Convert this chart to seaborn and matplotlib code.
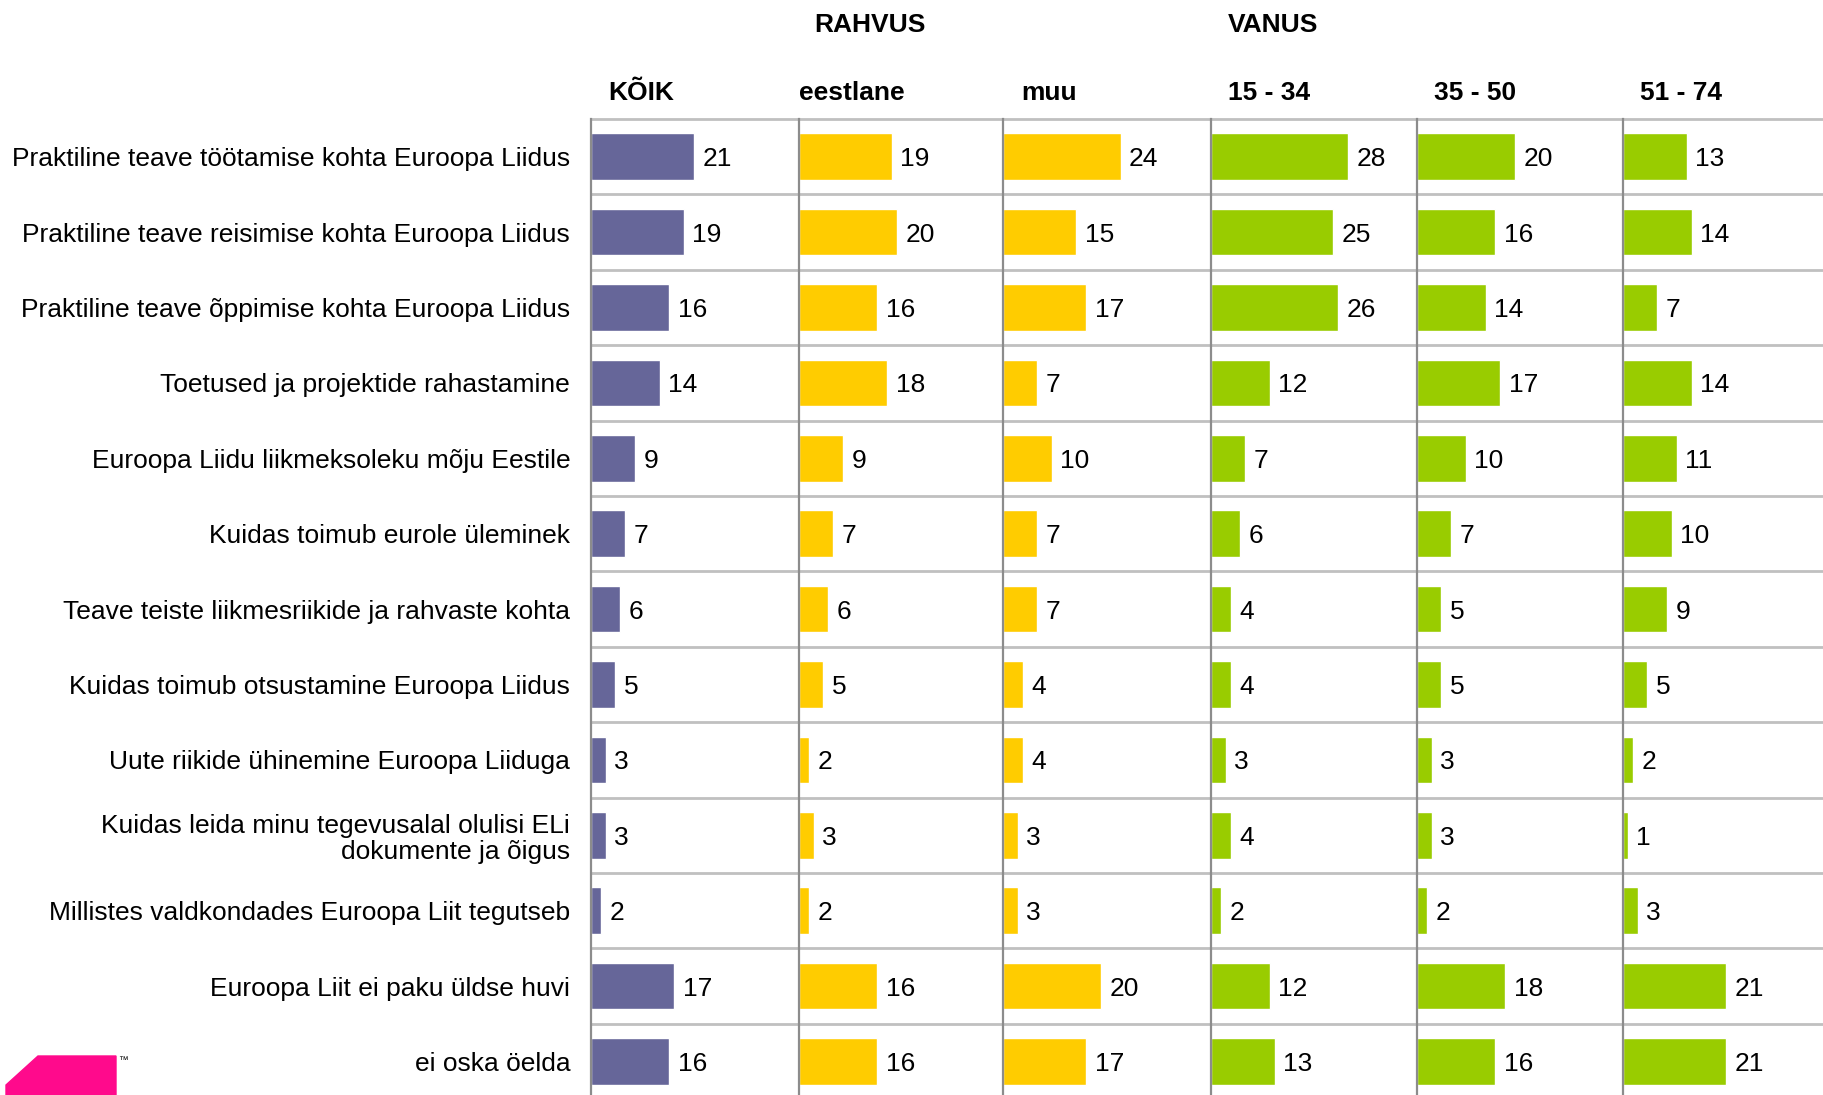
import matplotlib
matplotlib.use("Agg")
import matplotlib.pyplot as plt
import seaborn as sns
import numpy as np
import pandas as pd
from matplotlib.patches import Polygon

# categories (rows, top to bottom)
categories = [
    "Praktiline teave töötamise kohta Euroopa Liidus",
    "Praktiline teave reisimise kohta Euroopa Liidus",
    "Praktiline teave õppimise kohta Euroopa Liidus",
    "Toetused ja projektide rahastamine",
    "Euroopa Liidu liikmeksoleku mõju Eestile",
    "Kuidas toimub eurole üleminek",
    "Teave teiste liikmesriikide ja rahvaste kohta",
    "Kuidas toimub otsustamine Euroopa Liidus",
    "Uute riikide ühinemine Euroopa Liiduga",
    "Kuidas leida minu tegevusalal olulisi ELi\ndokumente ja õigus",
    "Millistes valdkondades Euroopa Liit tegutseb",
    "Euroopa Liit ei paku üldse huvi",
    "ei oska öelda",
]

# one series per column
koik = [21, 19, 16, 14, 9, 7, 6, 5, 3, 3, 2, 17, 16]
eestlane = [19, 20, 16, 18, 9, 7, 6, 5, 2, 3, 2, 16, 16]
muu = [24, 15, 17, 7, 10, 7, 7, 4, 4, 3, 3, 20, 17]
vanus_15_34 = [28, 25, 26, 12, 7, 6, 4, 4, 3, 4, 2, 12, 13]
vanus_35_50 = [20, 16, 14, 17, 10, 7, 5, 5, 3, 3, 2, 18, 16]
vanus_51_74 = [13, 14, 7, 14, 11, 10, 9, 5, 2, 1, 3, 21, 21]

column_titles = ["KÕIK", "eestlane", "muu", "15 - 34", "35 - 50", "51 - 74"]
group_titles = ["RAHVUS", "VANUS"]

PURPLE = "#666699"
YELLOW = "#FFCC00"
GREEN = "#99CC00"

series = [koik, eestlane, muu, vanus_15_34, vanus_35_50, vanus_51_74]
colors = [PURPLE, YELLOW, YELLOW, GREEN, GREEN, GREEN]

W, H = 1824, 1095
sns.set_theme(style="white")
plt.rcParams["font.family"] = ["Liberation Sans", "DejaVu Sans"]
plt.rcParams["text.color"] = "black"
plt.rcParams["ytick.color"] = "black"

fig = plt.figure(figsize=(W / 100, H / 100), dpi=100)

# column left edges in pixels
col_left = [591, 799, 1003, 1211, 1417, 1623]
col_right = col_left[1:] + [W]
top_px = 119
row_px = 75.4
px_per_unit = 4.9
n = len(categories)
ax_h = n * row_px

for i, (vals, col) in enumerate(zip(series, colors)):
    left, right = col_left[i], col_right[i]
    ax = fig.add_axes([left / W, 1 - (top_px + ax_h) / H, (right - left) / W, ax_h / H])
    df = pd.DataFrame({"cat": categories, "val": vals})
    sns.barplot(data=df, x="val", y="cat", orient="h", color=col, saturation=1,
                width=0.62, ax=ax, order=categories)
    ax.set_xlim(0, (right - left) / px_per_unit)
    ax.set_ylim(n - 0.5, -0.5)
    for b in np.arange(-0.5, n, 1.0):
        ax.axhline(b, color="#c0c0c0", lw=2, zorder=0, clip_on=False)
    labels = ax.bar_label(ax.containers[0], padding=6, fontsize=19, color="black")
    for t in labels:
        t.set_verticalalignment("center_baseline")
    for s in ["top", "right", "bottom"]:
        ax.spines[s].set_visible(False)
    ax.spines["left"].set_color("#8c8c8c")
    ax.spines["left"].set_linewidth(1.6)
    ax.spines["left"].set_zorder(5)
    ax.set_xticks([])
    ax.set_xlabel("")
    ax.set_ylabel("")
    if i == 0:
        ax.tick_params(axis="y", length=0, pad=15, labelsize=19, labelcolor="black")
        for t in ax.get_yticklabels():
            t.set_horizontalalignment("right")
            t.set_multialignment("right")
            t.set_verticalalignment("center_baseline")
            t.set_linespacing(1.12)
    else:
        ax.set_yticks([])

# column headers
header_x = [608, 799, 1021, 1228, 1434, 1640]
for x, t in zip(header_x, column_titles):
    fig.text(x / W, 1 - 90 / H, t, fontsize=19, fontweight="bold", va="center_baseline", ha="left")
fig.text(814 / W, 1 - 22 / H, group_titles[0], fontsize=19, fontweight="bold", va="center_baseline", ha="left")
fig.text(1228 / W, 1 - 22 / H, group_titles[1], fontsize=19, fontweight="bold", va="center_baseline", ha="left")

# logo in bottom-left corner
logo = [(6, 1095), (6, 1085), (38, 1056), (116, 1056), (116, 1095)]
fig.patches.append(Polygon([(x / W, 1 - y / H) for x, y in logo], closed=True,
                           transform=fig.transFigure, color="#FF0A8C", figure=fig))
fig.text(118 / W, 1 - 1060 / H, "™", fontsize=7, va="center", ha="left")

fig.savefig("out.png", dpi=100)
